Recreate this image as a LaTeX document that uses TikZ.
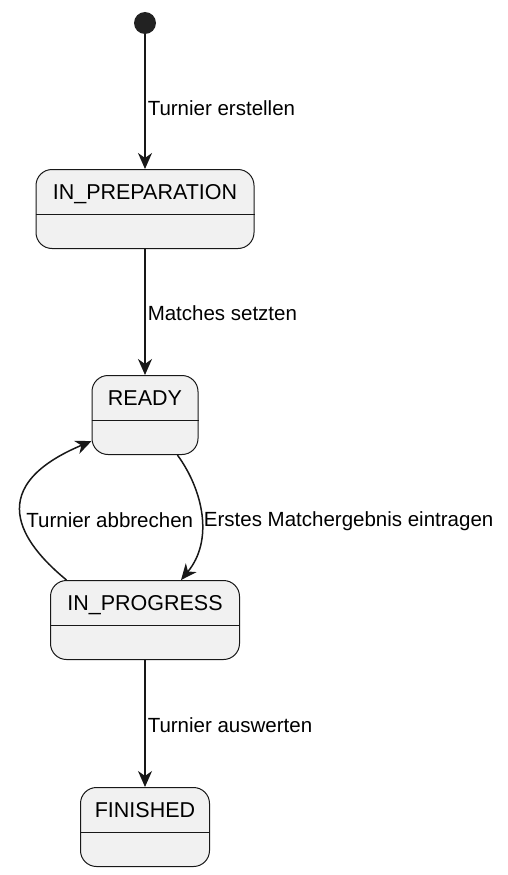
\documentclass[tikz,border=0pt]{standalone}
\usepackage{fontspec}
\setmainfont{Liberation Sans}
\usetikzlibrary{arrows.meta, positioning, calc}
\definecolor{umlFill}{HTML}{F1F1F1}
\definecolor{umlLine}{HTML}{181818}
\definecolor{umlDot}{HTML}{222222}

\begin{document}
\begin{tikzpicture}[
    x=1pt, y=-1pt,
    stateBox/.style={
        rectangle, rounded corners=16pt,
        draw=umlLine, line width=1pt,
        fill=umlFill, minimum height=79pt, inner sep=0pt
    },
    stateName/.style={
        anchor=base, font=\fontsize{21.5}{25}\selectfont,
        text=black, inner sep=0pt
    },
    stateDivider/.style={draw=umlLine, line width=1pt},
    startDot/.style={circle, fill=umlDot, minimum size=22pt, inner sep=0pt},
    transLine/.style={
        -{Stealth[length=16pt, width=14pt, inset=5pt]},
        line width=1.5pt, draw=umlLine
    },
    transLabel/.style={
        font=\fontsize{20.5}{24}\selectfont, text=black, inner sep=2pt
    }
]

    % Frame
    \useasboundingbox (0,0) rectangle (508,875);

    % Initial state
    \node[startDot] (start) at (145,23) {};

    % States
    \node[stateBox, minimum width=218pt, anchor=north] (prep) at (145,169) {};
    \node[stateName] (prepName) at ($(prep.north)+(0,30)$) {IN\_PREPARATION};

    \node[stateBox, minimum width=106pt, anchor=north] (ready) at (145,375) {};
    \node[stateName] (readyName) at ($(ready.north)+(0,30)$) {READY};

    \node[stateBox, minimum width=189pt, anchor=north] (prog) at (145,580) {};
    \node[stateName] (progName) at ($(prog.north)+(0,30)$) {IN\_PROGRESS};

    \node[stateBox, minimum width=129pt, anchor=north] (fin) at (145,787) {};
    \node[stateName] (finName) at ($(fin.north)+(0,30)$) {FINISHED};

    % Dividers
    \foreach \s in {prep,ready,prog,fin}
        \draw[stateDivider] ($(\s.north west)+(0,45)$) -- ($(\s.north east)+(0,45)$);

    % Transitions
    \draw[transLine] (start) -- node[transLabel, right, pos=0.55] (lblCreate) {Turnier erstellen} (prep.north);
    \draw[transLine] (prep.south) -- node[transLabel, right, pos=0.51] (lblMatches) {Matches setzten} (ready.north);
    \draw[transLine] (ready.-51) .. controls (203,490) and (214,540) .. node[transLabel, right, yshift=-6pt] (lblFirst) {Erstes Matchergebnis eintragen} (prog.48);
    \draw[transLine] (prog.153) .. controls (30,550) and (-25,490) .. node[transLabel, right, xshift=2pt, yshift=-3pt] (lblAbort) {Turnier abbrechen} (ready.206);
    \draw[transLine] (prog.south) -- node[transLabel, right, pos=0.51] (lblEval) {Turnier auswerten} (fin.north);

\end{tikzpicture}
\end{document}
